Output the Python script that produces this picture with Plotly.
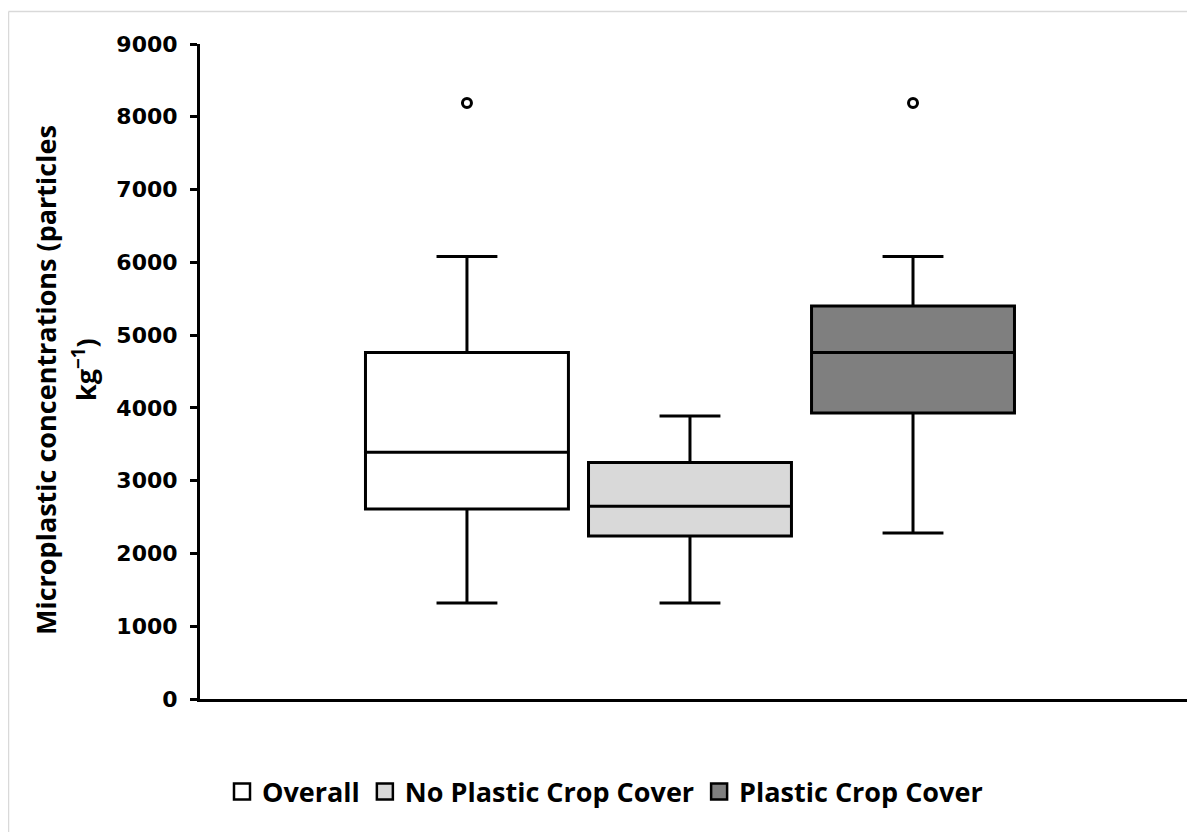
import plotly.graph_objects as go

# ---- data ----
groups = ["Overall", "No Plastic Crop Cover", "Plastic Crop Cover"]
positions = [0, 1, 2]
lower_fence = [1320, 1320, 2280]
q1_vals = [2610, 2240, 3930]
median_vals = [3390, 2650, 4760]
q3_vals = [4760, 3250, 5400]
upper_fence = [6080, 3890, 6080]
outlier_pos = [0, 2]
outlier_vals = [8190, 8190]
fill_colors = ["#ffffff", "#d9d9d9", "#7f7f7f"]
y_ticks = [0, 1000, 2000, 3000, 4000, 5000, 6000, 7000, 8000, 9000]
title_line1 = "Microplastic concentrations (particles"
title_line2 = "kg<sup>\u22121</sup>)"

fig = go.Figure()

for i, name in enumerate(groups):
    fig.add_trace(go.Box(
        x=[positions[i]],
        q1=[q1_vals[i]], median=[median_vals[i]], q3=[q3_vals[i]],
        lowerfence=[lower_fence[i]], upperfence=[upper_fence[i]],
        name=name, showlegend=False,
        fillcolor=fill_colors[i],
        line=dict(color="black", width=3),
        width=0.91, whiskerwidth=0.3,
        boxpoints=False, hoverinfo="skip",
    ))

fig.add_trace(go.Scatter(
    x=outlier_pos, y=outlier_vals, mode="markers", showlegend=False,
    marker=dict(symbol="circle", size=9, color="white",
                line=dict(color="black", width=3)),
    hoverinfo="skip",
))

# legend entries
for i, name in enumerate(groups):
    fig.add_trace(go.Scatter(
        x=[None], y=[None], mode="markers", name=name,
        marker=dict(symbol="square", size=16, color=fill_colors[i],
                    line=dict(color="black", width=2.5)),
    ))

FIG_W, FIG_H = 1187, 824  # page body adds an 8px margin

fig.update_layout(
    width=FIG_W, height=FIG_H,
    paper_bgcolor="white", plot_bgcolor="white",
    margin=dict(l=192, r=5, t=36, b=133),
    boxmode="overlay",
    showlegend=True,
    legend=dict(
        orientation="h", xref="container", yref="container",
        x=(222 - 8) / FIG_W, xanchor="left", y=1 - (792 - 8) / FIG_H, yanchor="middle",
        font=dict(family="Open Sans", size=27, color="black", weight="bold"),
        itemsizing="trace", tracegroupgap=0, itemwidth=30,
        bgcolor="rgba(0,0,0,0)",
    ),
    xaxis=dict(
        range=[-1.197, 3.242], showticklabels=False, ticks="",
        showgrid=False, zeroline=False,
        showline=True, linecolor="black", linewidth=3,
    ),
    yaxis=dict(
        range=[0, 9000], tickvals=y_ticks,
        ticks="outside", ticklen=7, tickwidth=3, tickcolor="black",
        showgrid=False, zeroline=False,
        showline=True, linecolor="black", linewidth=3,
        tickfont=dict(family="DejaVu Sans", size=22, color="black", weight="bold"),
        ticklabelstandoff=8,
    ),
    font=dict(family="Open Sans", color="black"),
)

def px_x(P):
    return (P - 200) / 990

def px_y(P):
    return (699 - P) / 655

fig.add_annotation(
    xref="paper", yref="paper", x=px_x(46), y=px_y(380),
    xanchor="center", yanchor="middle", textangle=-90, showarrow=False,
    text=title_line1,
    font=dict(family="Open Sans", size=27, color="black", weight="bold"),
)
fig.add_annotation(
    xref="paper", yref="paper", x=px_x(84), y=px_y(370),
    xanchor="center", yanchor="middle", textangle=-90, showarrow=False,
    text=title_line2,
    font=dict(family="Open Sans", size=27, color="black", weight="bold"),
)

# light grey frame lines (top and left)
fig.add_shape(type="line", xref="paper", yref="paper",
              x0=px_x(8.5), x1=px_x(1200),
              y0=px_y(11.5), y1=px_y(11.5),
              line=dict(color="#d9d9d9", width=1.5))
fig.add_shape(type="line", xref="paper", yref="paper",
              x0=px_x(8.5), x1=px_x(8.5),
              y0=px_y(11.5), y1=px_y(840),
              line=dict(color="#d9d9d9", width=1.5))

fig.write_html("out.html")
